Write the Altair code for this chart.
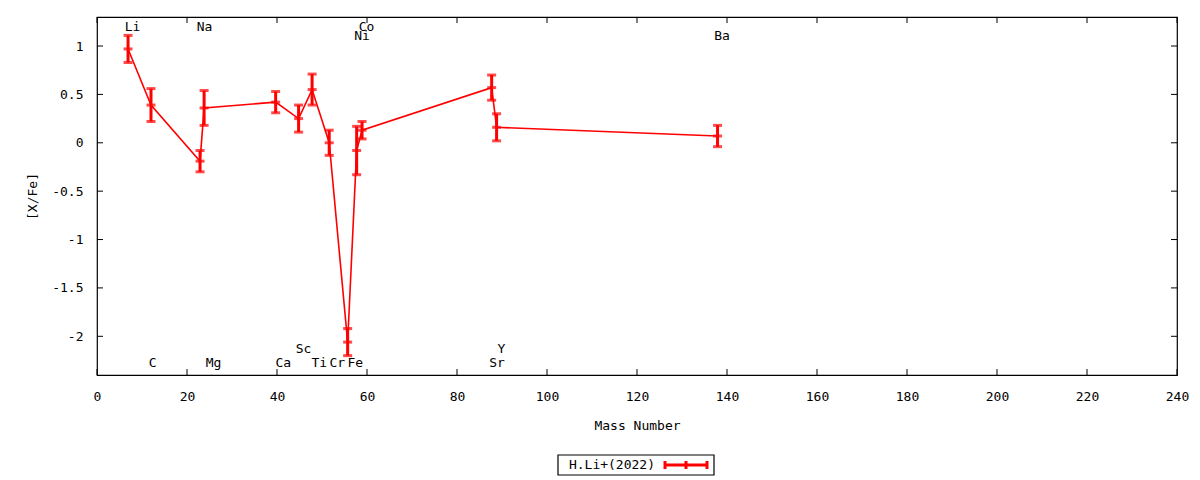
import altair as alt
import pandas as pd

# [X/Fe] abundances
elements = ["Li", "C", "Na", "Mg", "Ca", "Sc", "Ti", "Cr", "Fe", "Ni", "Co", "Sr", "Y", "Ba"]
mass = [6.9, 12.0, 22.9, 23.8, 39.7, 44.8, 47.8, 51.6, 55.7, 57.7, 58.9, 87.7, 88.8, 137.9]
xfe = [0.97, 0.39, -0.19, 0.36, 0.42, 0.25, 0.55, 0.00, -2.06, -0.08, 0.13, 0.57, 0.16, 0.07]
xfe_err = [0.14, 0.17, 0.11, 0.18, 0.11, 0.14, 0.16, 0.13, 0.14, 0.25, 0.09, 0.13, 0.14, 0.11]

# element name labels along top / bottom of the frame
label_names = ["Li", "C", "Na", "Mg", "Ca", "Sc", "Ti", "Cr", "Fe", "Co", "Ni", "Sr", "Y", "Ba"]
label_mass = [7, 11.5, 23, 25, 40.5, 45, 48.5, 52.5, 56.5, 59, 58, 88, 89, 138]
label_row = ["top", "bottom", "top", "bottom", "bottom", "bottom2", "bottom", "bottom", "bottom",
             "top", "top2", "bottom", "bottom2", "top2"]
row_level = {"top": 1.2, "top2": 1.1, "bottom": -2.28, "bottom2": -2.13}

x_ticks = list(range(0, 241, 20))
y_ticks = [-2, -1.5, -1, -0.5, 0, 0.5, 1]

series_name = "H.Li+(2022)"

W, H = 1080, 358
RED = "#ff0000"
FONT = "DejaVu Sans Mono"

df = pd.DataFrame({"element": elements, "mass": mass, "xfe": xfe, "err": xfe_err})
df["lo"] = df["xfe"] - df["err"]
df["hi"] = df["xfe"] + df["err"]

labels = pd.DataFrame({"name": label_names, "mass": label_mass,
                       "level": [row_level[r] for r in label_row]})

xscale = alt.Scale(domain=[0, 240], nice=False, zero=False)
yscale = alt.Scale(domain=[-2.4, 1.3], nice=False, zero=False)

x_axis = alt.Axis(values=x_ticks, grid=False, ticks=False, domain=False, labelPadding=15,
                  labelFont=FONT, labelFontSize=13, labelColor="black", labelFlush=False,
                  titleFont=FONT, titleFontSize=13, titleFontWeight="normal", titlePadding=16)
y_axis = alt.Axis(values=y_ticks, grid=False, ticks=False, domain=False, labelPadding=14,
                  labelExpr="datum.value + ''",
                  labelFont=FONT, labelFontSize=13, labelColor="black",
                  titleFont=FONT, titleFontSize=13, titleFontWeight="normal", titlePadding=12)

base = alt.Chart(df)

line = base.mark_line(color=RED, strokeWidth=1.6).encode(
    x=alt.X("mass:Q", scale=xscale, axis=x_axis, title="Mass Number"),
    y=alt.Y("xfe:Q", scale=yscale, axis=y_axis, title="[X/Fe]"),
)
bars = base.mark_rule(color=RED, strokeWidth=3).encode(
    x="mass:Q", y="lo:Q", y2="hi:Q",
    tooltip=["element", "mass", "xfe", "err"],
)
cap_lo = base.mark_tick(color=RED, thickness=3, size=9, orient="horizontal").encode(x="mass:Q", y="lo:Q")
cap_hi = base.mark_tick(color=RED, thickness=3, size=9, orient="horizontal").encode(x="mass:Q", y="hi:Q")
center = base.mark_tick(color=RED, thickness=3, size=9, orient="horizontal").encode(x="mass:Q", y="xfe:Q")

names = alt.Chart(labels).mark_text(font=FONT, fontSize=13, color="black", dx=4,
                                    baseline="middle", align="center").encode(
    x="mass:Q", y="level:Q", text="name:N"
)

# inward ticks on all four sides
xt = alt.Chart(pd.DataFrame({"t": x_ticks}))
yt = alt.Chart(pd.DataFrame({"t": y_ticks}))
tick_b = xt.mark_rule(color="black").encode(x="t:Q", y=alt.value(H), y2=alt.value(H - 6))
tick_t = xt.mark_rule(color="black").encode(x="t:Q", y=alt.value(0), y2=alt.value(6))
tick_l = yt.mark_rule(color="black").encode(y="t:Q", x=alt.value(0), x2=alt.value(6))
tick_r = yt.mark_rule(color="black").encode(y="t:Q", x=alt.value(W - 6), x2=alt.value(W))

# legend drawn by hand: text left, error-bar sample right
leg = alt.Chart(pd.DataFrame({"name": [series_name]}))
leg_box = leg.mark_rect(fill="white", stroke="black", strokeWidth=1.2).encode(
    x=alt.value(461), x2=alt.value(617), y=alt.value(438), y2=alt.value(458))
leg_text = leg.mark_text(font=FONT, fontSize=13, align="right", baseline="middle").encode(
    x=alt.value(558), y=alt.value(448), text="name:N")
leg_line = leg.mark_rule(color=RED, strokeWidth=3).encode(
    x=alt.value(568), x2=alt.value(610), y=alt.value(448))
leg_caps = alt.layer(*[
    leg.mark_rule(color=RED, strokeWidth=3).encode(
        x=alt.value(px), y=alt.value(444), y2=alt.value(452))
    for px in (568, 589, 610)
])

chart = alt.layer(
    tick_b, tick_t, tick_l, tick_r,
    line, bars, cap_lo, cap_hi, center, names,
    leg_box, leg_text, leg_line, leg_caps,
).properties(
    width=W, height=H,
    autosize=alt.AutoSizeParams(type="none"),
    padding={"left": 89, "top": 9, "right": 12, "bottom": 102},
).configure(background="white").configure_view(stroke="black", strokeWidth=1.2)

chart.save("out.html", embed_options={"renderer": "svg", "actions": False})
